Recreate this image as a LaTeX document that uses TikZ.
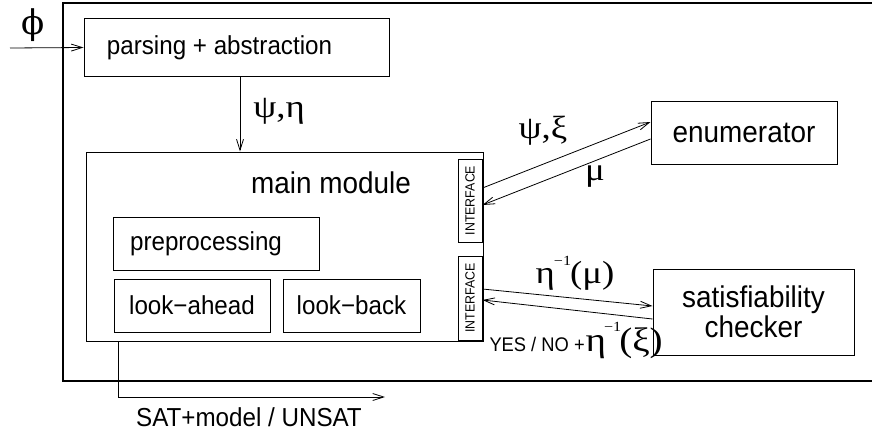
\documentclass[tikz,border=0pt]{standalone}
\usepackage{fontspec}
\setmainfont[FakeStretch=0.93]{Liberation Sans}
\newfontfamily\grk[FakeStretch=1.15]{Liberation Serif}
\newfontfamily\grkphi{DejaVu Serif}
\usetikzlibrary{arrows.meta,calc}
\newcommand\fxA{\fontsize{26}{30}\selectfont}
\newcommand\fxB{\fontsize{30}{33}\selectfont}
\newcommand\fxI{\fontsize{13.3}{14}\selectfont}
\newcommand\fxY{\fontsize{19.7}{21}\selectfont}
\newcommand\fxG{\grk\fontsize{32}{34}\selectfont}
\newcommand\fxS{\fontsize{14}{14}\selectfont}
\begin{document}
\begin{tikzpicture}[x=1pt,y=-1pt,
  line width=1pt,
  box/.style={draw,line width=1pt,inner sep=0pt},
  arr/.style={line width=0.8pt,-{Straight Barb[length=11pt,width=7pt,line width=0.8pt]}},
  lbl/.style={inner sep=0pt}]
\useasboundingbox (0,0) rectangle (872,436);
% outer frame (right side beyond the picture)
\draw[line width=1.3pt] (872,3) -- (63,3) -- (63,381) -- (872,381);
% boxes
\node[box,minimum width=305pt,minimum height=57pt] (parse) at (236.5,47.5) {\fxA parsing + abstraction\kern34pt};
\node[box,minimum width=397pt,minimum height=189pt] (main) at (284.5,246.5) {};
\node[lbl] (mainlbl) at (331,183) {\fxB main module};
\node[box,minimum width=206pt,minimum height=53pt] (pre) at (216,243.5) {\fxA preprocessing\kern20pt};
\node[box,minimum width=156pt,minimum height=53pt] (ahead) at (192,305.5) {\fxA look−ahead};
\node[box,minimum width=137pt,minimum height=53pt] (back) at (351.5,305.5) {\fxA look−back};
\node[box,minimum width=24pt,minimum height=83pt] (if1) at (470,200.5) {\rotatebox{90}{\fxI INTERFACE}};
\node[box,minimum width=24pt,minimum height=84pt] (if2) at (470,298) {\rotatebox{90}{\fxI INTERFACE}};
\node[box,minimum width=186pt,minimum height=63pt] (enum) at (744,132.5) {\fxB enumerator};
\node[box,minimum width=201pt,minimum height=86pt,align=center] (sat) at (753.5,312) {\fxB satisfiability\\[1pt]\fxB checker};
% connectors
\coordinate (phistart) at (10,48);
\draw[arr] (phistart) -- (parse.west);
\node[lbl] (philbl) at (33,25) {\grkphi\fontsize{34}{34}\selectfont ϕ};
\coordinate (psix) at (240,0);
\draw[arr] (parse.south -| psix) -- (main.north -| psix);
\node[lbl] (psieta) at (279,111) {\fxG ψ,η};
\draw[arr] ([yshift=12.5pt]if1.east) -- ([yshift=10.5pt]enum.west);
\draw[arr] ([yshift=-6.5pt]enum.west) -- ([yshift=-4.5pt]if1.east);
\node[lbl] (psixi) at (543,131) {\fxG ψ,ξ};
\node[lbl] (mu) at (595,177) {\fxG μ};
\draw[arr] ([yshift=9pt]if2.east) -- ([yshift=6pt]sat.west);
\draw[arr] ([yshift=-7pt]sat.west) -- ([yshift=-2pt]if2.east);
\node[lbl] (etamu) at (575,273) {\fxG η\kern-1pt\raisebox{18pt}{\fxS −1}\kern-1pt(μ)};
\node[lbl,anchor=west] (yesno) at (489,340) {\fxY YES / NO +\kern1pt{\grk\fontsize{34}{34}\selectfont η\kern-2pt\raisebox{20pt}{\fxS −1}\kern-2pt(ξ)}};
\coordinate (out) at (385,397);
\draw[arr] ([xshift=-166.5pt]main.south) |- (out);
\node[lbl] (satlbl) at (249,417) {\fxA SAT+model / UNSAT};
\end{tikzpicture}
\end{document}
